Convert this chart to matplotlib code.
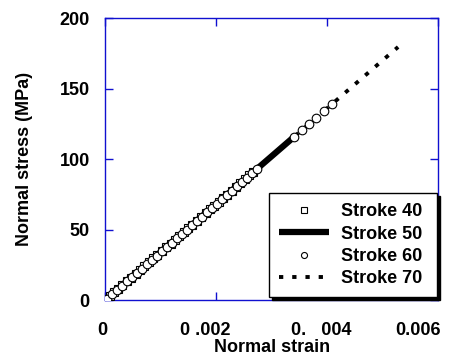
import matplotlib
matplotlib.use("Agg")
import matplotlib.pyplot as plt
from matplotlib.transforms import ScaledTranslation

plt.rcParams['font.family'] = ['Liberation Sans', 'DejaVu Sans']
plt.rcParams['font.weight'] = 'bold'

# Stroke 40 (squares)
s40_strain = [0.00000, 0.00008, 0.00016, 0.00024, 0.00031, 0.00039, 0.00047, 0.00055,
              0.00063, 0.00071, 0.00079, 0.00087, 0.00094, 0.00102, 0.00110, 0.00118,
              0.00126, 0.00134, 0.00142, 0.00150, 0.00157, 0.00165, 0.00173, 0.00181,
              0.00189, 0.00197, 0.00205, 0.00213, 0.00220, 0.00228, 0.00236, 0.00244,
              0.00252, 0.00260, 0.00267]
s40_stress = [0.0, 2.8, 5.5, 8.2, 10.6, 13.3, 16.0, 18.7,
              21.4, 24.1, 26.9, 29.6, 32.0, 34.7, 37.4, 40.1,
              42.8, 45.6, 48.3, 51.0, 53.4, 56.1, 58.8, 61.5,
              64.3, 67.0, 69.7, 72.4, 74.8, 77.5, 80.2, 83.0,
              85.7, 88.4, 90.8]

# Stroke 50 (thick line)
s50_strain = [0.0, 0.0005, 0.0010, 0.0015, 0.0020, 0.0025, 0.0030, 0.00337]
s50_stress = [0.0, 17.0, 34.0, 51.0, 68.0, 85.0, 102.0, 114.6]

# Stroke 60 (circles)
s60_strain = [0.00003, 0.00012, 0.00021, 0.00030, 0.00039, 0.00048, 0.00057, 0.00066,
              0.00075, 0.00084, 0.00093, 0.00102, 0.00111, 0.00120, 0.00129, 0.00138,
              0.00147, 0.00156, 0.00165, 0.00174, 0.00183, 0.00192, 0.00201, 0.00210,
              0.00219, 0.00228, 0.00237, 0.00246, 0.00255, 0.00264, 0.00273,
              0.00341, 0.00354, 0.00368, 0.00380, 0.00395, 0.00409]
s60_stress = [1.0, 4.1, 7.1, 10.2, 13.3, 16.3, 19.4, 22.4,
              25.5, 28.6, 31.6, 34.7, 37.7, 40.8, 43.9, 46.9,
              50.0, 53.0, 56.1, 59.2, 62.2, 65.3, 68.3, 71.4,
              74.5, 77.5, 80.6, 83.6, 86.7, 89.8, 92.8,
              115.8, 120.6, 124.8, 128.9, 134.0, 139.0]

# Stroke 70 (dotted)
s70_strain = [0.0, 0.0010, 0.0020, 0.0030, 0.0040, 0.0045, 0.0050, 0.00528]
s70_stress = [0.0, 34.0, 68.0, 102.0, 136.0, 153.0, 170.0, 179.5]

xticks = [0, 0.002, 0.004, 0.006]
xtick_labels = ["0", "0 .002", "0.   004", "0.006"]
xtick_shift = [-3, -11, -6, -20]  # pixels
yticks = [0, 50, 100, 150, 200]

blue = '#1010d0'

fig = plt.figure(figsize=(4.53, 3.62), dpi=100)
ax = fig.add_axes([0.232, 0.171, 0.735, 0.779])

ax.plot(s70_strain, s70_stress, color='black', lw=2.8, linestyle=(0, (1.1, 2.3)),
        label='Stroke 70', zorder=2)
ax.plot(s50_strain, s50_stress, color='black', lw=4.5, solid_capstyle='butt',
        label='Stroke 50', zorder=3)
ax.plot(s40_strain, s40_stress, 's', ms=5.5, mfc='white', mec='black', mew=0.8,
        label='Stroke 40', zorder=4)
ax.plot(s60_strain, s60_stress, 'o', ms=6.2, mfc='white', mec='black', mew=0.8,
        label='Stroke 60', zorder=5)

ax.set_xlim(0, 0.006)
ax.set_ylim(0, 200)

for sp in ax.spines.values():
    sp.set_color(blue)
    sp.set_linewidth(1.0)

ax.set_xticks(xticks)
ax.set_xticklabels([])
ax.set_yticks(yticks)
ax.set_yticklabels([str(v) for v in yticks])
ax.tick_params(direction='in', length=6, width=1, color=blue, top=True, right=True,
               labelsize=13, pad=11)
for lab in ax.get_yticklabels():
    lab.set_fontweight('bold')

for xv, txt, dx in zip(xticks, xtick_labels, xtick_shift):
    tr = ax.get_xaxis_transform() + ScaledTranslation(dx / 100, -0.22, fig.dpi_scale_trans)
    ax.text(xv, 0, txt, transform=tr, ha='center', va='top', fontsize=13,
            fontweight='bold')

ax.set_xlabel('Normal strain', fontsize=13, fontweight='bold', labelpad=17)
ax.set_ylabel('Normal stress (MPa)', fontsize=13, fontweight='bold', labelpad=19)

handles, labels = ax.get_legend_handles_labels()
order = [2, 1, 3, 0]
leg = ax.legend([handles[i] for i in order], [labels[i] + ' ' for i in order],
                loc='upper right', bbox_to_anchor=(0.997, 0.379), borderaxespad=0,
                fancybox=False, edgecolor='black', framealpha=1,
                shadow={'color': 'black', 'alpha': 1, 'ox': 2.2, 'oy': -2.2},
                prop={'weight': 'bold', 'size': 13},
                handlelength=2.8, handletextpad=0.65, labelspacing=0.3,
                markerscale=0.7, borderpad=0.55)
leg.get_frame().set_linewidth(1.0)

fig.savefig('out.png', dpi=100)
